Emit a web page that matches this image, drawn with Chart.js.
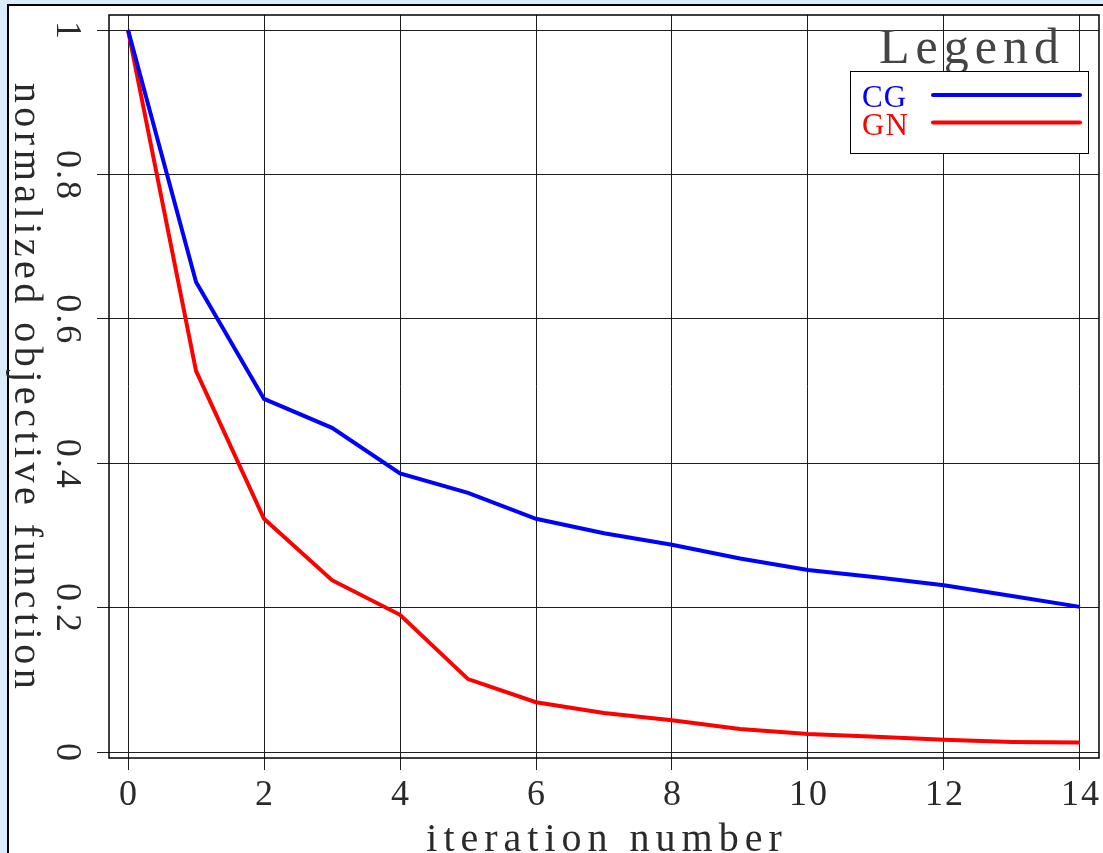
<!DOCTYPE html>
<html>
<head>
<meta charset="utf-8">
<script src="https://cdn.jsdelivr.net/npm/chart.js@4/dist/chart.umd.min.js"></script>
<style>
  html, body { margin: 0; padding: 0; background: #daecfc; }
  canvas { display: block; }
</style>
</head>
<body>
<canvas id="chart" width="1103" height="853"></canvas>
<script>
// Données
const ITERATIONS = [0, 1, 2, 3, 4, 5, 6, 7, 8, 9, 10, 11, 12, 13, 14];
const CG_VALUES = [1.0, 0.651, 0.489, 0.449, 0.386, 0.359, 0.323, 0.303, 0.287, 0.268, 0.252, 0.242, 0.231, 0.216, 0.201];
const GN_VALUES = [1.0, 0.528, 0.323, 0.238, 0.190, 0.101, 0.069, 0.054, 0.044, 0.032, 0.025, 0.021, 0.017, 0.014, 0.013];
const SERIES_LABELS = ["CG", "GN"];
const SERIES_COLORS = ["#0000ff", "#ff0000"];
const X_TICKS = [0, 2, 4, 6, 8, 10, 12, 14];
const X_TICK_LABELS = ["0", "2", "4", "6", "8", "10", "12", "14"];
const Y_TICKS = [0, 0.2, 0.4, 0.6, 0.8, 1];
const Y_TICK_LABELS = ["0", "0.2", "0.4", "0.6", "0.8", "1"];
const X_TITLE = "iteration number";
const Y_TITLE = "normalized objective function";
const LEGEND_TITLE = "Legend";

const FONT = '"Liberation Serif", "DejaVu Serif", serif';
const TEXT_COLOR = "#2a2a2a";
const GRID_COLOR = "#1e1e1e";

function toPoints(values) {
  return ITERATIONS.map((x, i) => ({ x: x, y: values[i] }));
}

// Fond, cadre et textes dessinés autour de la zone du graphique
const decorPlugin = {
  id: "decor",
  beforeDraw(chart) {
    const ctx = chart.ctx;
    ctx.save();
    ctx.fillStyle = "#daecfc";
    ctx.fillRect(0, 0, chart.width, chart.height);
    ctx.fillStyle = "#ffffff";
    ctx.fillRect(8, 5, chart.width - 8, chart.height - 5);
    ctx.fillStyle = "#000000";
    ctx.fillRect(7, 4, 2, chart.height);
    ctx.fillRect(7, 4, chart.width, 2);
    ctx.restore();
  },
  afterDraw(chart) {
    const ctx = chart.ctx;
    const area = chart.chartArea;
    const xScale = chart.scales.x;
    const yScale = chart.scales.y;

    ctx.save();
    // Cadre de la zone de tracé
    ctx.strokeStyle = "#000000";
    ctx.lineWidth = 1.5;
    ctx.strokeRect(area.left, area.top, area.right - area.left, area.bottom - area.top);

    // Étiquettes de l'axe X
    ctx.fillStyle = TEXT_COLOR;
    ctx.font = "36px " + FONT;
    ctx.letterSpacing = "2px";
    ctx.textAlign = "center";
    ctx.textBaseline = "alphabetic";
    xScale.ticks.forEach((t, i) => {
      ctx.fillText(X_TICK_LABELS[i], xScale.getPixelForValue(t.value) + 1, 805);
    });

    // Étiquettes de l'axe Y (tournées)
    yScale.ticks.forEach((t, i) => {
      ctx.save();
      ctx.translate(57, yScale.getPixelForValue(t.value));
      ctx.rotate(Math.PI / 2);
      ctx.fillText(Y_TICK_LABELS[i], 1, 0);
      ctx.restore();
    });

    // Titres des axes
    ctx.font = "40px " + FONT;
    ctx.letterSpacing = "6px";
    ctx.fillText(X_TITLE, (area.left + area.right) / 2 + 3, 851);

    ctx.save();
    ctx.letterSpacing = "4.5px";
    ctx.translate(15, 386);
    ctx.rotate(Math.PI / 2);
    ctx.fillText(Y_TITLE, 2, 0);
    ctx.restore();

    // Légende
    ctx.fillStyle = "#444444";
    ctx.font = "50px " + FONT;
    ctx.letterSpacing = "6px";
    ctx.fillText(LEGEND_TITLE, 972, 63);

    ctx.fillStyle = "#ffffff";
    ctx.fillRect(851, 72, 238, 82);
    ctx.strokeStyle = "#000000";
    ctx.lineWidth = 1;
    ctx.strokeRect(850.5, 71.5, 238, 82);

    ctx.font = "31px " + FONT;
    ctx.letterSpacing = "1px";
    ctx.textAlign = "left";
    chart.data.datasets.forEach((ds, i) => {
      const y = 95 + i * 27.5;
      ctx.fillStyle = ds.borderColor;
      ctx.fillText(ds.label, 862, y + 12);
      ctx.strokeStyle = ds.borderColor;
      ctx.lineWidth = 4;
      ctx.lineCap = "round";
      ctx.beginPath();
      ctx.moveTo(933, y);
      ctx.lineTo(1080, y);
      ctx.stroke();
    });
    ctx.restore();
  },
};

const chart = new Chart(document.getElementById("chart"), {
  type: "line",
  data: {
    datasets: [
      {
        label: SERIES_LABELS[0],
        data: toPoints(CG_VALUES),
        borderColor: SERIES_COLORS[0],
        borderWidth: 4,
        pointRadius: 0,
        tension: 0,
        fill: false,
      },
      {
        label: SERIES_LABELS[1],
        data: toPoints(GN_VALUES),
        borderColor: SERIES_COLORS[1],
        borderWidth: 4,
        pointRadius: 0,
        tension: 0,
        fill: false,
      },
    ],
  },
  options: {
    responsive: false,
    animation: false,
    devicePixelRatio: 1,
    layout: { padding: { top: 15, right: 4, left: 0, bottom: 0 } },
    plugins: {
      legend: { display: false },
      tooltip: { enabled: false },
    },
    scales: {
      x: {
        type: "linear",
        min: -0.28,
        max: 14.28,
        afterBuildTicks: (scale) => {
          scale.ticks = X_TICKS.map((v) => ({ value: v }));
        },
        afterFit: (scale) => {
          scale.height = 95;
        },
        ticks: { display: false },
        border: { display: false },
        grid: {
          color: GRID_COLOR,
          tickColor: GRID_COLOR,
          lineWidth: 1,
          drawTicks: true,
          tickLength: 12,
        },
      },
      y: {
        type: "linear",
        min: -0.0083,
        max: 1.0208,
        afterBuildTicks: (scale) => {
          scale.ticks = Y_TICKS.map((v) => ({ value: v }));
        },
        afterFit: (scale) => {
          scale.width = 109;
        },
        ticks: { display: false },
        border: { display: false },
        grid: {
          color: GRID_COLOR,
          tickColor: GRID_COLOR,
          lineWidth: 1,
          drawTicks: true,
          tickLength: 12,
        },
      },
    },
  },
  plugins: [decorPlugin],
});
</script>
</body>
</html>
